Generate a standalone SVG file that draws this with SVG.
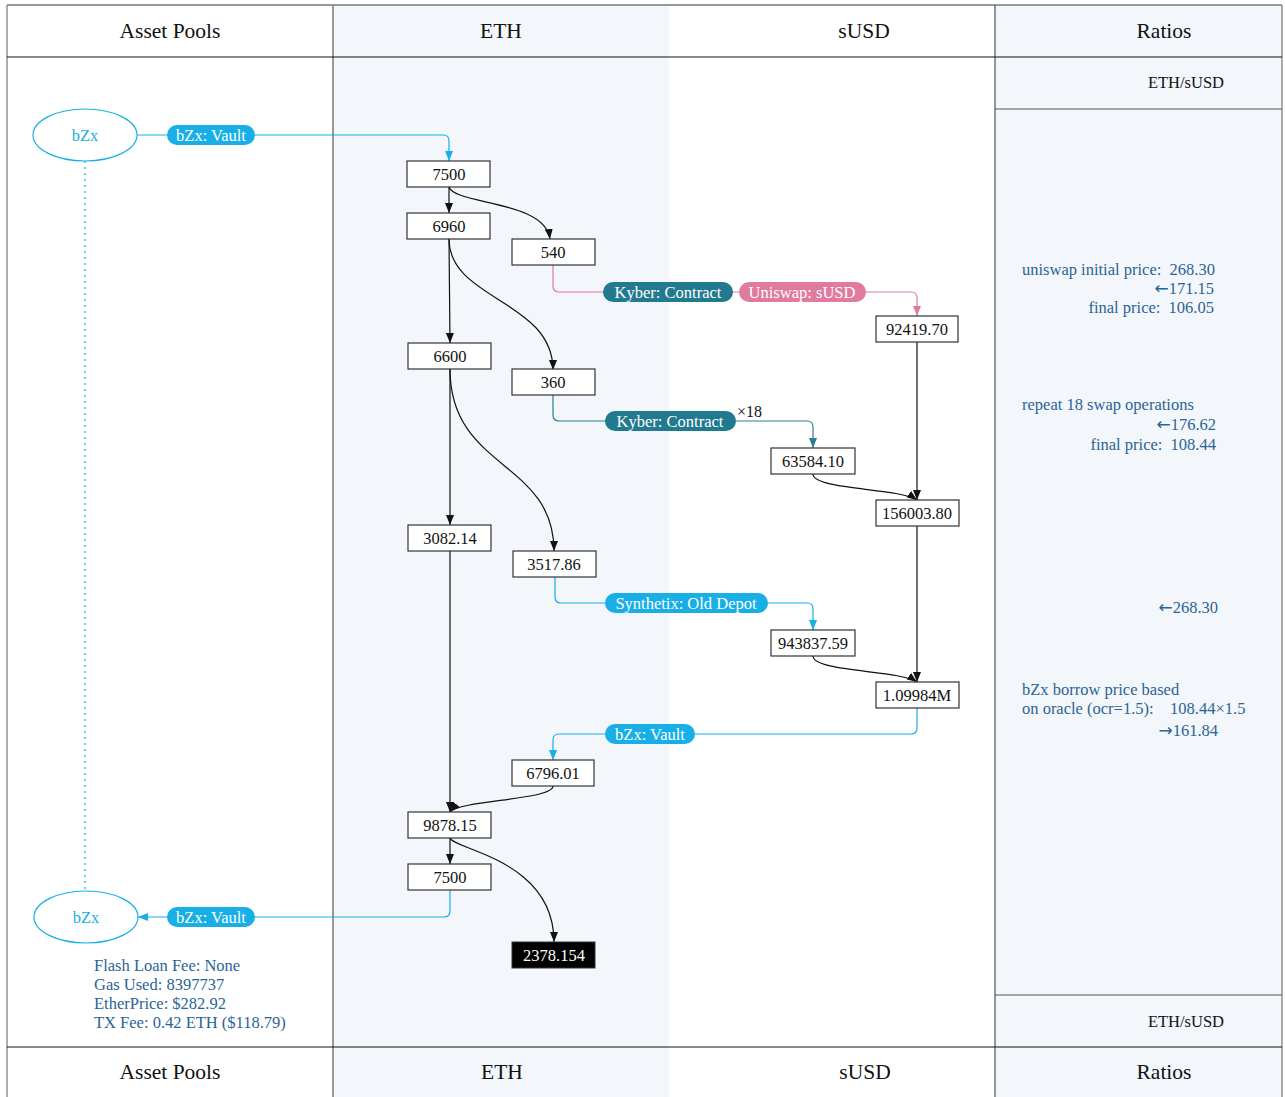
<svg xmlns="http://www.w3.org/2000/svg" width="1285" height="1097" viewBox="0 0 1285 1097">
<style>
text{font-family:"Liberation Serif","Times New Roman",serif;}
.hd{font-size:21.5px;fill:#111;text-anchor:middle;}
.sub{font-size:16.5px;fill:#111;text-anchor:middle;}
.nb{fill:#fff;stroke:#333;stroke-width:1.2;}
.nt{font-size:16.5px;fill:#111;text-anchor:middle;}
.e{fill:none;stroke:#111;stroke-width:1.2;}
.blue{fill:none;stroke:#17afe6;stroke-width:1.2;}
.teal{fill:none;stroke:#2a7f94;stroke-width:1.2;}
.pink{fill:none;stroke:#e07a9e;stroke-width:1.2;}
.lbl{font-size:16.5px;fill:#fff;text-anchor:middle;}
.note{font-size:16.5px;fill:#2b6496;}
.ne{text-anchor:end;}
.ar{font-family:"DejaVu Sans",sans-serif;font-size:17px;}
</style>
<defs>
<marker id="ab" markerUnits="userSpaceOnUse" markerWidth="10" markerHeight="8" refX="10" refY="4" orient="auto"><path d="M0,0 L10,4 L0,8 z" fill="#111"/></marker>
<marker id="abl" markerUnits="userSpaceOnUse" markerWidth="10" markerHeight="8" refX="10" refY="4" orient="auto"><path d="M0,0 L10,4 L0,8 z" fill="#17afe6"/></marker>
<marker id="at" markerUnits="userSpaceOnUse" markerWidth="10" markerHeight="8" refX="10" refY="4" orient="auto"><path d="M0,0 L10,4 L0,8 z" fill="#2a7f94"/></marker>
<marker id="ap" markerUnits="userSpaceOnUse" markerWidth="10" markerHeight="8" refX="10" refY="4" orient="auto"><path d="M0,0 L10,4 L0,8 z" fill="#e07a9e"/></marker>
</defs>
<g id="background">
<rect x="0" y="0" width="1285" height="1097" fill="#fff"/>
<rect x="333" y="5" width="336" height="1092" fill="#f3f6fb"/>
<rect x="995" y="5" width="287" height="1092" fill="#f3f6fb"/>
<line x1="7" y1="5" x2="1282" y2="5" stroke="#999" stroke-width="2"/>
<line x1="7" y1="5" x2="7" y2="1097" stroke="#777" stroke-width="1.2"/>
<line x1="333" y1="5" x2="333" y2="1097" stroke="#777" stroke-width="1.5"/>
<line x1="995" y1="5" x2="995" y2="1097" stroke="#555" stroke-width="1.2"/>
<line x1="1282" y1="5" x2="1282" y2="1097" stroke="#777" stroke-width="1.2"/>
<line x1="7" y1="57" x2="1282" y2="57" stroke="#111" stroke-width="1.2"/>
<line x1="7" y1="1047" x2="1282" y2="1047" stroke="#111" stroke-width="1.2"/>
<line x1="995" y1="109" x2="1282" y2="109" stroke="#555" stroke-width="1.2"/>
<line x1="995" y1="995" x2="1282" y2="995" stroke="#555" stroke-width="1.2"/>
<text class="hd" x="170" y="38">Asset Pools</text>
<text class="hd" x="501" y="38">ETH</text>
<text class="hd" x="864" y="38">sUSD</text>
<text class="hd" x="1164" y="38">Ratios</text>
<text class="hd" x="170" y="1079">Asset Pools</text>
<text class="hd" x="502" y="1079">ETH</text>
<text class="hd" x="865" y="1079">sUSD</text>
<text class="hd" x="1164" y="1079">Ratios</text>
<text class="sub" x="1186" y="88">ETH/sUSD</text>
<text class="sub" x="1186" y="1027">ETH/sUSD</text>
</g>
<g id="connectors">
<path class="blue" d="M85,161 V889" stroke-dasharray="2,4"/>
<path class="blue" d="M137,135 H443 Q449,135 449,141 V161" marker-end="url(#abl)"/>
<path class="e" d="M449,187 V213" marker-end="url(#ab)"/>
<path class="e" d="M449,187 C455,205 545,200 550,239" marker-end="url(#ab)"/>
<path class="e" d="M449,239 L450,343" marker-end="url(#ab)"/>
<path class="e" d="M449,239 C449,300 553,300 553,370" marker-end="url(#ab)"/>
<path class="pink" d="M553,265 V286 Q553,292 559,292 H911 Q917,292 917,298 V316" marker-end="url(#ap)"/>
<path class="e" d="M917,342 V500" stroke="#444" marker-end="url(#ab)"/>
<path class="e" d="M450,369 V525" marker-end="url(#ab)"/>
<path class="e" d="M450,369 C450,470 554,460 554,551" marker-end="url(#ab)"/>
<path class="teal" d="M553,395 V415 Q553,421 559,421 H807 Q813,421 813,427 V448" marker-end="url(#at)"/>
<path class="e" d="M813,474 C813,490 900,488 917,500" marker-end="url(#ab)"/>
<path class="e" d="M917,526 V682" stroke="#444" marker-end="url(#ab)"/>
<path class="blue" d="M555,577 V597 Q555,603 561,603 H807 Q813,603 813,609 V630" marker-end="url(#abl)"/>
<path class="e" d="M813,656 C813,672 900,670 917,682" marker-end="url(#ab)"/>
<path class="blue" d="M917,708 V728 Q917,734 911,734 H559 Q553,734 553,740 V760" marker-end="url(#abl)"/>
<path class="e" d="M450,551 V812" marker-end="url(#ab)"/>
<path class="e" d="M553,786 C553,800 460,800 450,812" marker-end="url(#ab)"/>
<path class="e" d="M450,838 V864" marker-end="url(#ab)"/>
<path class="e" d="M450,838 C455,850 554,860 554,942" marker-end="url(#ab)"/>
<path class="blue" d="M450,890 V911 Q450,917 444,917 H138" marker-end="url(#abl)"/>
</g>
<g id="edge-labels">
<rect x="167" y="125" width="88" height="20" rx="10" fill="#17afe6"/>
<text class="lbl" x="211" y="141">bZx: Vault</text>
<rect x="603" y="282" width="130" height="20" rx="10" fill="#217a8f"/>
<text class="lbl" x="668" y="298">Kyber: Contract</text>
<rect x="739" y="282" width="127" height="20" rx="10" fill="#e07a9e"/>
<text class="lbl" x="802" y="298">Uniswap: sUSD</text>
<rect x="605" y="411" width="131" height="20" rx="10" fill="#217a8f"/>
<text class="lbl" x="670" y="427">Kyber: Contract</text>
<text x="737" y="417" font-size="16" fill="#111">×18</text>
<rect x="605" y="593" width="163" height="20" rx="10" fill="#17afe6"/>
<text class="lbl" x="686" y="609">Synthetix: Old Depot</text>
<rect x="605" y="724" width="90" height="20" rx="10" fill="#17afe6"/>
<text class="lbl" x="650" y="740">bZx: Vault</text>
<rect x="167" y="907" width="88" height="20" rx="10" fill="#17afe6"/>
<text class="lbl" x="211" y="923">bZx: Vault</text>
</g>
<g id="bzx-top"><ellipse cx="85" cy="135" rx="52" ry="26" fill="none" stroke="#17afe6" stroke-width="1.2"/><text x="85" y="141" font-size="16.5" fill="#17afe6" text-anchor="middle">bZx</text></g>
<g id="bzx-bottom"><ellipse cx="86" cy="917" rx="52" ry="26" fill="none" stroke="#17afe6" stroke-width="1.2"/><text x="86" y="923" font-size="16.5" fill="#17afe6" text-anchor="middle">bZx</text></g>
<g id="n7500a"><rect class="nb" x="407" y="161" width="83" height="26"/><text class="nt" x="449" y="180">7500</text></g>
<g id="n6960"><rect class="nb" x="407" y="213" width="83" height="26"/><text class="nt" x="449" y="232">6960</text></g>
<g id="n540"><rect class="nb" x="512" y="239" width="83" height="26"/><text class="nt" x="553" y="258">540</text></g>
<g id="n92419"><rect class="nb" x="876" y="316" width="82" height="26"/><text class="nt" x="917" y="335">92419.70</text></g>
<g id="n6600"><rect class="nb" x="408" y="343" width="83" height="26"/><text class="nt" x="450" y="362">6600</text></g>
<g id="n360"><rect class="nb" x="512" y="369" width="83" height="26"/><text class="nt" x="553" y="388">360</text></g>
<g id="n63584"><rect class="nb" x="771" y="448" width="84" height="26"/><text class="nt" x="813" y="467">63584.10</text></g>
<g id="n156003"><rect class="nb" x="876" y="500" width="83" height="26"/><text class="nt" x="917" y="519">156003.80</text></g>
<g id="n3082"><rect class="nb" x="408" y="525" width="83" height="26"/><text class="nt" x="450" y="544">3082.14</text></g>
<g id="n3517"><rect class="nb" x="513" y="551" width="83" height="26"/><text class="nt" x="554" y="570">3517.86</text></g>
<g id="n943837"><rect class="nb" x="771" y="630" width="84" height="26"/><text class="nt" x="813" y="649">943837.59</text></g>
<g id="n109984"><rect class="nb" x="876" y="682" width="83" height="26"/><text class="nt" x="917" y="701">1.09984M</text></g>
<g id="n6796"><rect class="nb" x="512" y="760" width="82" height="26"/><text class="nt" x="553" y="779">6796.01</text></g>
<g id="n9878"><rect class="nb" x="408" y="812" width="83" height="26"/><text class="nt" x="450" y="831">9878.15</text></g>
<g id="n7500b"><rect class="nb" x="408" y="864" width="83" height="26"/><text class="nt" x="450" y="883">7500</text></g>
<g id="n2378"><rect x="512" y="942" width="83" height="26" fill="#000" stroke="#333"/><text class="nt" x="554" y="961" style="fill:#fff">2378.154</text></g>
<g id="tx-info">
<text class="note" x="94" y="971">Flash Loan Fee: None</text>
<text class="note" x="94" y="990">Gas Used: 8397737</text>
<text class="note" x="94" y="1009">EtherPrice: $282.92</text>
<text class="note" x="94" y="1028">TX Fee: 0.42 ETH ($118.79)</text>
</g>
<g id="ratios-notes">
<text class="note" x="1022" y="275" xml:space="preserve">uniswap initial price:  268.30</text>
<text class="note ne" x="1214" y="294"><tspan class="ar">←</tspan>171.15</text>
<text class="note ne" x="1214" y="313" xml:space="preserve">final price:  106.05</text>
<text class="note" x="1022" y="410">repeat 18 swap operations</text>
<text class="note ne" x="1216" y="430"><tspan class="ar">←</tspan>176.62</text>
<text class="note ne" x="1216" y="450" xml:space="preserve">final price:  108.44</text>
<text class="note ne" x="1218" y="613"><tspan class="ar">←</tspan>268.30</text>
<text class="note" x="1022" y="695">bZx borrow price based</text>
<text class="note" x="1022" y="714" xml:space="preserve">on oracle (ocr=1.5):    108.44×1.5</text>
<text class="note ne" x="1218" y="736"><tspan class="ar">→</tspan>161.84</text>
</g>
</svg>
